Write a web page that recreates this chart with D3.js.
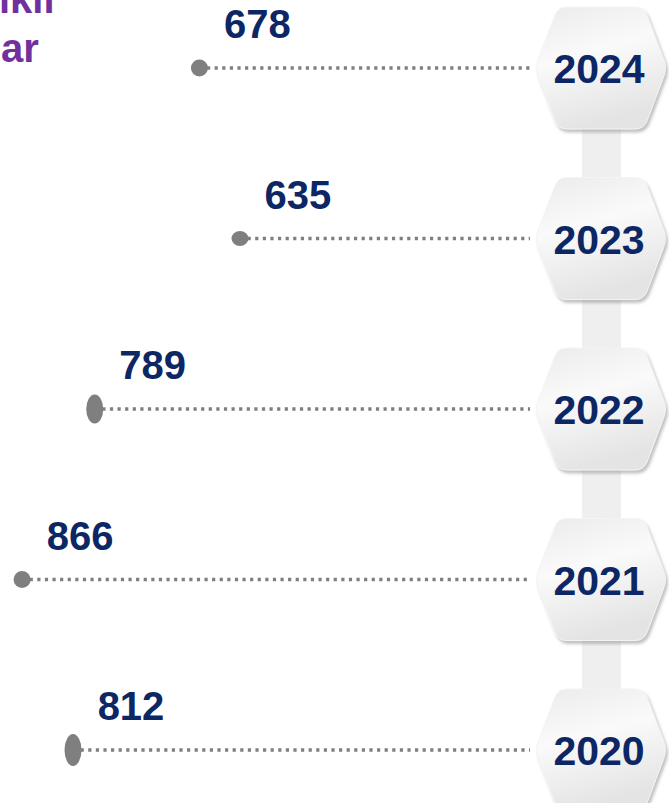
<!DOCTYPE html>
<html>
<head>
<meta charset="utf-8">
<script src="https://cdn.jsdelivr.net/npm/d3@7"></script>
<style>
  body { margin: 0; background: #fff; overflow: hidden; }
  svg { display: block; font-family: "Liberation Sans", Arial, sans-serif; }
</style>
</head>
<body>
<script>
// data, top row first
const years = ["2024", "2023", "2022", "2021", "2020"];
const values = [678, 635, 789, 866, 812];
const titleLines = ["ikli", "ar"];

const WIDTH = 669, HEIGHT = 803;
const NAVY = "#0c2764";
const PURPLE = "#7030a0";
const DOT_GREY = "#7f7f7f";
// dot heights (the markers are stretched differently in the original)
const DOT_RY = [8.5, 7.5, 14.5, 8.5, 16];

const svg = d3.select("body").append("svg")
    .attr("width", WIDTH)
    .attr("height", HEIGHT);

const defs = svg.append("defs");
const grad = defs.append("linearGradient")
    .attr("id", "hexFill")
    .attr("x1", "0").attr("y1", "0")
    .attr("x2", "0.3").attr("y2", "1");
grad.append("stop").attr("offset", "0%").attr("stop-color", "#ebebeb");
grad.append("stop").attr("offset", "45%").attr("stop-color", "#fafafa");
grad.append("stop").attr("offset", "100%").attr("stop-color", "#e4e4e4");

const shadow = defs.append("filter")
    .attr("id", "hexShadow")
    .attr("x", "-20%").attr("y", "-20%")
    .attr("width", "140%").attr("height", "140%");
shadow.append("feDropShadow")
    .attr("dx", 2).attr("dy", 3)
    .attr("stdDeviation", 1.5)
    .attr("flood-color", "#999")
    .attr("flood-opacity", 0.6);

// scales
const y = d3.scalePoint()
    .domain(years)
    .range([68, 750]);

const x = d3.scaleLinear()
    .domain([600, 900])
    .range([273, -10]);

const HEX_X = 601;
const LINE_END = 530;

// vertical connector behind the hexagons
svg.append("rect")
    .attr("x", HEX_X - 19)
    .attr("y", y(years[0]))
    .attr("width", 39)
    .attr("height", y(years[years.length - 1]) - y(years[0]))
    .attr("fill", "#efefef");

// rounded hexagon path
function roundedPoly(pts, r) {
    const n = pts.length;
    let d = "";
    for (let i = 0; i < n; i++) {
        const p0 = pts[(i - 1 + n) % n], p1 = pts[i], p2 = pts[(i + 1) % n];
        const v1 = [p0[0] - p1[0], p0[1] - p1[1]];
        const v2 = [p2[0] - p1[0], p2[1] - p1[1]];
        const l1 = Math.hypot(v1[0], v1[1]), l2 = Math.hypot(v2[0], v2[1]);
        const a = [p1[0] + v1[0] / l1 * r, p1[1] + v1[1] / l1 * r];
        const b = [p1[0] + v2[0] / l2 * r, p1[1] + v2[1] / l2 * r];
        d += (i === 0 ? "M" : "L") + a[0] + "," + a[1];
        d += "Q" + p1[0] + "," + p1[1] + " " + b[0] + "," + b[1];
    }
    return d + "Z";
}
const hexPts = [[-66, 0], [-43, -61], [43, -61], [66, 0], [43, 61], [-43, 61]];
const hexPath = roundedPoly(hexPts, 9);

const rows = years.map((yr, i) => ({ year: yr, value: values[i], i: i }));

const row = svg.append("g")
    .selectAll("g")
    .data(rows)
    .enter()
    .append("g");

// dotted leader lines
row.append("line")
    .attr("x1", d => x(d.value))
    .attr("x2", LINE_END)
    .attr("y1", d => y(d.year))
    .attr("y2", d => y(d.year))
    .attr("stroke", DOT_GREY)
    .attr("stroke-width", 3.4)
    .attr("stroke-dasharray", "3.2,4.4");

row.append("ellipse")
    .attr("cx", d => x(d.value))
    .attr("cy", d => y(d.year))
    .attr("rx", 8.5)
    .attr("ry", d => DOT_RY[d.i])
    .attr("fill", DOT_GREY);

row.append("text")
    .attr("x", d => x(d.value) + 58)
    .attr("y", d => y(d.year) - 30)
    .attr("text-anchor", "middle")
    .attr("font-size", 40)
    .attr("font-weight", "bold")
    .attr("fill", NAVY)
    .text(d => d.value);

// hexagons
const hex = row.append("g")
    .attr("transform", d => `translate(${HEX_X},${y(d.year)})`);

hex.append("path")
    .attr("d", hexPath)
    .attr("fill", "url(#hexFill)")
    .attr("stroke", "#f4f4f4")
    .attr("stroke-width", 1)
    .attr("filter", "url(#hexShadow)");

hex.append("text")
    .attr("x", -2)
    .attr("y", 15)
    .attr("text-anchor", "middle")
    .attr("font-size", 41)
    .attr("font-weight", "bold")
    .attr("fill", NAVY)
    .text(d => d.year);

// clipped title in the corner
svg.append("g")
    .selectAll("text")
    .data(titleLines)
    .enter()
    .append("text")
    .attr("x", (d, i) => i === 0 ? -1 : 1)
    .attr("y", (d, i) => 13 + i * 49)
    .attr("font-size", 40)
    .attr("font-weight", "bold")
    .attr("fill", PURPLE)
    .text(d => d);
</script>
</body>
</html>
